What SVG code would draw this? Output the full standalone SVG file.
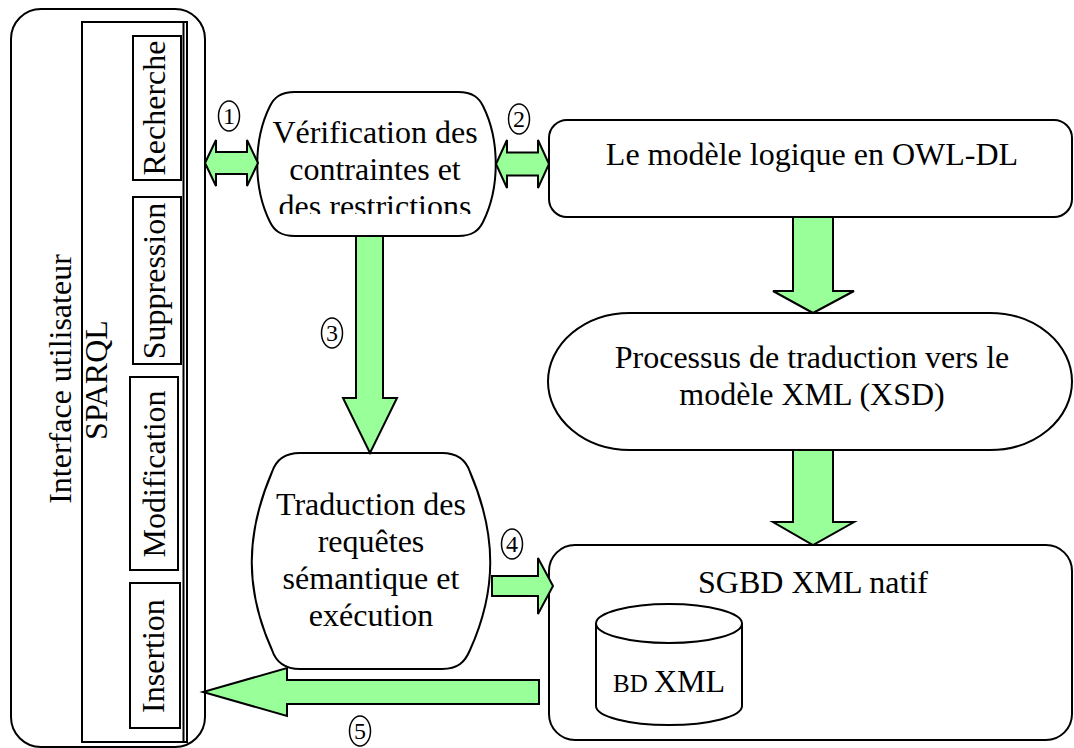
<svg xmlns="http://www.w3.org/2000/svg" width="1074" height="748" viewBox="0 0 1074 748">
  <style>
    .box { fill: #ffffff; stroke: #000000; stroke-width: 2; }
    .plain { fill: none; stroke: #000000; stroke-width: 2; }
    .arrow { fill: #99ff99; stroke: #000000; stroke-width: 2; stroke-linejoin: miter; }
    .num { fill: #ffffff; stroke: #000000; stroke-width: 1.5; }
    text { font-family: "Liberation Serif", "Times New Roman", serif; fill: #000000; }
    .lbl { font-size: 32px; text-anchor: middle; }
    .numtxt { font-size: 24px; text-anchor: middle; }
  </style>
  <defs>
    <clipPath id="clip-verif">
      <rect x="250" y="85" width="260" height="129"/>
    </clipPath>
  </defs>

  <rect width="1074" height="748" fill="#ffffff"/>

  <!-- User interface panel with the SPARQL operations -->
  <g id="interface">
    <rect class="box" x="11" y="9" width="194" height="738" rx="30" ry="30"/>
    <text class="lbl" x="71" y="379" transform="rotate(-90 71 379)">Interface utilisateur</text>
    <g id="sparql">
      <rect class="box" x="82" y="22" width="105" height="720"/>
      <line class="plain" x1="183.5" y1="22" x2="183.5" y2="742" stroke-width="1.5"/>
      <text class="lbl" x="107" y="380" transform="rotate(-90 107 380)">SPARQL</text>
    </g>
    <g id="recherche">
      <rect class="box" x="133" y="36" width="48" height="144"/>
      <text class="lbl" x="165" y="108" transform="rotate(-90 165 108)">Recherche</text>
    </g>
    <g id="suppression">
      <rect class="box" x="133" y="197" width="48" height="167"/>
      <text class="lbl" x="165" y="281" transform="rotate(-90 165 281)">Suppression</text>
    </g>
    <g id="modification">
      <rect class="box" x="130" y="377" width="48" height="193"/>
      <text class="lbl" x="165" y="474" transform="rotate(-90 165 474)">Modification</text>
    </g>
    <g id="insertion">
      <rect class="box" x="130" y="583" width="50" height="145"/>
      <text class="lbl" x="164" y="656" transform="rotate(-90 164 656)">Insertion</text>
    </g>
  </g>

  <!-- Constraint checking -->
  <g id="verification">
    <path class="box" d="M 295 92 H 458 C 473 92 479 98 483 106 C 500 140 500 188 483 222 C 479 230 473 236 458 236 H 295 C 280 236 274 230 270 222 C 253 188 253 140 270 106 C 274 98 280 92 295 92 Z"/>
    <text class="lbl" x="375" y="143">Vérification des</text>
    <text class="lbl" x="375" y="180">contraintes et</text>
    <text class="lbl" x="375" y="217" clip-path="url(#clip-verif)">des restrictions</text>
  </g>

  <!-- Logical model -->
  <g id="modele-owl">
    <rect class="box" x="549" y="120" width="523" height="97" rx="18" ry="18"/>
    <text class="lbl" x="812" y="165">Le modèle logique en OWL-DL</text>
  </g>

  <!-- Translation process -->
  <g id="processus">
    <path class="box" d="M 630 313 H 990 A 82 68.5 0 0 1 990 450 H 630 A 82 68.5 0 0 1 630 313 Z"/>
    <text class="lbl" x="812" y="368">Processus de traduction vers le</text>
    <text class="lbl" x="812" y="405">modèle XML (XSD)</text>
  </g>

  <!-- Query translation and execution -->
  <g id="traduction">
    <path class="box" d="M 300 453 H 442 C 458 453 466 460 470 472 C 497 535 497 590 470 650 C 465 662 458 669 442 669 H 300 C 284 669 276 662 272 650 C 245 590 245 535 272 472 C 276 460 284 453 300 453 Z"/>
    <text class="lbl" x="371" y="515">Traduction des</text>
    <text class="lbl" x="371" y="552">requêtes</text>
    <text class="lbl" x="371" y="589">sémantique et</text>
    <text class="lbl" x="371" y="626">exécution</text>
  </g>

  <!-- Native XML DBMS -->
  <g id="sgbd">
    <rect class="box" x="549" y="545" width="523" height="195" rx="26" ry="26"/>
    <text class="lbl" x="813" y="593">SGBD XML natif</text>
    <g id="bd-xml">
      <path class="box" d="M 596 623.5 V 706 A 73 19 0 0 0 742 706 V 623.5 A 73 19.5 0 0 0 596 623.5 Z"/>
      <path class="plain" d="M 596 623.5 A 73 19.5 0 0 0 742 623.5"/>
      <text x="613" y="692"><tspan font-size="25">BD </tspan><tspan font-size="32">XML</tspan></text>
    </g>
  </g>

  <!-- Block arrows between the components -->
  <g id="connectors">
    <polygon class="arrow" points="205,163 216,140 216,152 247,152 247,140 258,163 247,186 247,174 216,174 216,186"/>
    <polygon class="arrow" points="496,164 507,140 507,152.5 538,152.5 538,140 549,164 538,188 538,175.5 507,175.5 507,188"/>
    <polygon class="arrow" points="356,236 383,236 383,398 397,398 370,453 343,398 356,398"/>
    <polygon class="arrow" points="793,217 833,217 833,291 854,291 813,313 773,291 793,291"/>
    <polygon class="arrow" points="793,450 833,450 833,522 854,522 813,545 773,522 793,522"/>
    <polygon class="arrow" points="492,576 538,576 538,558 553,586 538,614 538,596 492,596"/>
    <polygon class="arrow" points="539,680 539,704 287,704 287,716 203,692 287,668 287,680"/>

    <g id="step-labels">
      <ellipse class="num" cx="229" cy="116" rx="10.5" ry="15"/>
      <text class="numtxt" x="229" y="124">1</text>
      <ellipse class="num" cx="519" cy="119" rx="10.5" ry="15"/>
      <text class="numtxt" x="519" y="127">2</text>
      <ellipse class="num" cx="332" cy="333" rx="10.5" ry="15"/>
      <text class="numtxt" x="332" y="341">3</text>
      <ellipse class="num" cx="512" cy="544" rx="10.5" ry="15"/>
      <text class="numtxt" x="512" y="552">4</text>
      <ellipse class="num" cx="360" cy="731" rx="10.5" ry="15"/>
      <text class="numtxt" x="360" y="739">5</text>
    </g>
  </g>
</svg>
